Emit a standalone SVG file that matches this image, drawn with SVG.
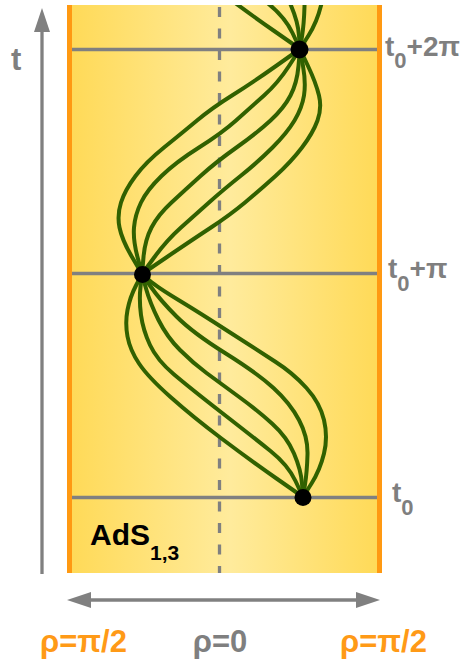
<svg xmlns="http://www.w3.org/2000/svg" width="470" height="660" viewBox="0 0 470 660">
<style>
.geo{fill:none;stroke:#316100;stroke-width:4;stroke-linecap:round;stroke-linejoin:round}
.grid{stroke:#808080;stroke-width:3.5}
.dash{stroke:#808080;stroke-width:3.3;stroke-dasharray:10 11.5}
.border{stroke:#FF9912;stroke-width:5}
.lbl{font-family:"Liberation Sans",Arial,sans-serif;font-weight:bold;fill:#7f7f7f}
.or{fill:#FF9A17}
.blk{fill:#000}
.dot{fill:#000}
.ax{stroke:#808080;stroke-width:3.3;fill:none}
</style>
<defs>
<linearGradient id="bg" x1="72" y1="0" x2="377" y2="0" gradientUnits="userSpaceOnUse">
<stop offset="0" stop-color="#FFDA58"/>
<stop offset="0.52" stop-color="#FFEB9C"/>
<stop offset="1" stop-color="#FFDA58"/>
</linearGradient>
<clipPath id="clipTop"><rect x="72" y="5" width="305" height="60"/></clipPath>
<marker id="ah" viewBox="0 0 24 16" refX="14" refY="8" markerWidth="24" markerHeight="16" markerUnits="userSpaceOnUse" orient="auto-start-reverse">
<path d="M0,0 L24,8 L0,16 z" fill="#808080"/>
</marker>
</defs>

<g id="spacetime">
<rect x="69" y="5" width="310" height="568" fill="url(#bg)"/>
<line class="dash" x1="219.5" y1="7" x2="219.5" y2="573"/>
<line class="grid" x1="72" y1="49.5" x2="377" y2="49.5"/>
<line class="grid" x1="72" y1="273.5" x2="377" y2="273.5"/>
<line class="grid" x1="72" y1="497.5" x2="377" y2="497.5"/>
<line class="border" x1="69.5" y1="5" x2="69.5" y2="573"/>
<line class="border" x1="379.5" y1="5" x2="379.5" y2="573"/>
</g>

<g id="geodesics">
<g id="upperSeg">
<path class="geo" d="M142,274 L132,257 Q122,240 119.5,227.5 Q117,215 121,202.5 Q125,190 135.5,176 Q146,162 164,147.5 Q182,133 197,120.5 Q212,108 232,95.5 Q252,83 276,66 L300,49"/>
<path class="geo" d="M142,274 L137.5,257 Q133,240 134,227.5 Q135,215 141,202.5 Q147,190 161.5,176 Q176,162 199,147.5 Q222,133 236,120.5 Q250,108 264,95.5 Q278,83 289,66 L300,49"/>
<path class="geo" d="M142,274 L143.5,257 Q145,240 151.5,227.5 Q158,215 171.5,202.5 Q185,190 200.5,176 Q216,162 236.5,147.5 Q257,133 270.5,120.5 Q284,108 290.5,95.5 Q297,83 298.5,66 L300,49"/>
<path class="geo" d="M142,274 L154.5,257 Q167,240 181,227.5 Q195,215 209,202.5 Q223,190 240.5,176 Q258,162 272.5,147.5 Q287,133 294.5,120.5 Q302,108 304,95.5 Q306,83 303,66 L300,49"/>
<path class="geo" d="M142,274 L167,257 Q192,240 211,227.5 Q230,215 245,202.5 Q260,190 275.5,176 Q291,162 302,147.5 Q313,133 317.5,120.5 Q322,108 319,95.5 Q316,83 308,66 L300,49"/>
</g>
<g id="lowerSeg">
<path class="geo" d="M142,274 L136,285.5 Q130,297 127.5,310 Q125,323 127.5,336.5 Q130,350 139,363.5 Q148,377 170.5,397 Q193,417 221.5,438.5 Q250,460 276.5,478.5 L303,497"/>
<path class="geo" d="M142,274 L140.5,287 Q139,300 141,315 Q143,330 150,345 Q157,360 173.5,374 Q190,388 221.5,412.5 Q253,437 270.5,451 Q288,465 295.5,481 L303,497"/>
<path class="geo" d="M142,274 L146,288.5 Q150,303 158.5,320 Q167,337 180,350 Q193,363 206.5,373 Q220,383 238.5,396.5 Q257,410 272,423.5 Q287,437 294,453.5 Q301,470 302,483.5 L303,497"/>
<path class="geo" d="M142,274 L151,287 Q160,300 176.5,316.5 Q193,333 225,353 Q257,373 273.5,388 Q290,403 299,420 Q308,437 307.5,454.5 Q307,472 305,484.5 L303,497"/>
<path class="geo" d="M142,274 L149.5,280.5 Q157,287 178.5,300 Q200,313 228.5,331.5 Q257,350 275,361.5 Q293,373 306.5,388 Q320,403 324,420 Q328,437 324,453.5 Q320,470 311.5,483.5 L303,497"/>
</g>
<g clip-path="url(#clipTop)">
<use href="#lowerSeg" transform="translate(-3,-448)"/>
</g>
</g>

<g id="events">
<circle class="dot" cx="299.5" cy="49.5" r="9"/>
<circle class="dot" cx="142.5" cy="274.5" r="8.5"/>
<circle class="dot" cx="303" cy="497.5" r="8.5"/>
</g>

<g id="connectors">
<line class="ax" x1="42" y1="574" x2="42" y2="18" marker-end="url(#ah)"/>
<line class="ax" x1="77" y1="600" x2="370" y2="600" marker-start="url(#ah)" marker-end="url(#ah)"/>
</g>

<g id="labels">
<text class="lbl" x="11" y="70" font-size="31">t</text>
<text class="lbl" x="385" y="56" font-size="28">t<tspan dy="12" font-size="22">0</tspan><tspan dy="-12">+2π</tspan></text>
<text class="lbl" x="388" y="278" font-size="28">t<tspan dy="13" font-size="22">0</tspan><tspan dy="-13">+π</tspan></text>
<text class="lbl" x="392" y="502" font-size="28">t<tspan dy="13" font-size="22">0</tspan></text>
<text class="lbl blk" x="90" y="545" font-size="30">AdS<tspan dy="15" font-size="21">1,3</tspan></text>
<text class="lbl or" x="40" y="652" font-size="31">ρ=π/2</text>
<text class="lbl" x="220" y="652" font-size="31" text-anchor="middle">ρ=0</text>
<text class="lbl or" x="340" y="652" font-size="31">ρ=π/2</text>
</g>
</svg>
